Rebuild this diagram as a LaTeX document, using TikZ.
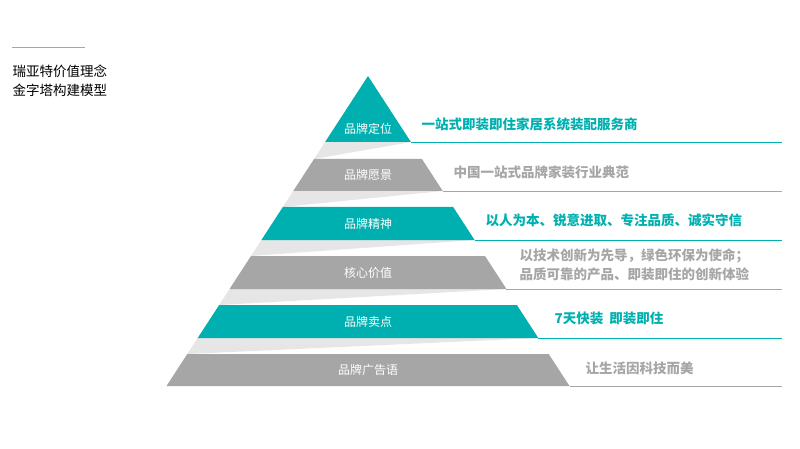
\documentclass[tikz,border=0pt]{standalone}
\usepackage{fontspec}
\setmainfont{Noto Sans CJK SC}
\definecolor{teal1}{HTML}{00B0B0}
\definecolor{gray1}{HTML}{A6A6A6}
\definecolor{band}{HTML}{E6E6E6}
\newcommand\pyrlayer[5]{%
  \fill[#3] ({368-0.65*(#1-76)},#1) -- ({368+0.65*(#1-76)},#1) -- ({368+0.65*(#2-76)},#2) -- ({368-0.65*(#2-76)},#2) -- cycle;
  \node[lab] (#5) at (368,{(#1+#2)/2}) {#4};
  \draw[#3, line width=0.7pt] ({368+0.65*(#2-76)},#2) -- (782,#2);
}
\newcommand\pyrband[2]{%
  \fill[band] ({368-0.65*(#1-76)},#1) -- ({368+0.65*(#1-76)},#1) -- ({368-0.65*(#2-76)},#2) -- cycle;
}
\begin{document}
\begin{tikzpicture}[x=1pt,y=-1pt,
  lab/.style={text=white,font=\fontsize{12}{14}\selectfont},
  tl/.style={anchor=west,font=\bfseries\fontsize{13.5}{16}\selectfont},
  ttl/.style={anchor=west,font=\fontsize{13.5}{19}\selectfont,align=left}]
\fill[white] (0,0) rectangle (800,449);
\draw[gray!70, line width=0.6pt] (12,47) -- (85,47);
\node[ttl] (title) at (9,81) {瑞亚特价值理念\\金字塔构建模型};
\pyrband{142}{159}
\pyrband{191}{207}
\pyrband{240}{256}
\pyrband{289}{305}
\pyrband{338}{354}
\fill[teal1] (368,76) -- ({368+0.65*66},142) -- ({368-0.65*66},142) -- cycle;
\node[lab] (l1) at (368,129) {品牌定位};
\draw[teal1, line width=0.7pt] ({368+0.65*66},142) -- (782,142);
\pyrlayer{159}{191}{gray1}{品牌愿景}{l2}
\pyrlayer{207}{240}{teal1}{品牌精神}{l3}
\pyrlayer{256}{289}{gray1}{核心价值}{l4}
\pyrlayer{305}{338}{teal1}{品牌卖点}{l5}
\pyrlayer{354}{386}{gray1}{品牌广告语}{l6}
\node[tl,text=teal1] (t1) at (418,124) {一站式即装即住家居系统装配服务商};
\node[tl,text=gray1] (t2) at (450,172) {中国一站式品牌家装行业典范};
\node[tl,text=teal1] (t3) at (482,220) {以人为本、锐意进取、专注品质、诚实守信};
\node[tl,text=gray1,align=left,font=\bfseries\fontsize{13.5}{19}\selectfont] (t4) at (516,265) {以技术创新为先导，绿色环保为使命；\\品质可靠的产品、即装即住的创新体验};
\node[tl,text=teal1] (t5) at (551,318) {7天快装\ \ 即装即住};
\node[tl,text=gray1] (t6) at (582,368) {让生活因科技而美};
\end{tikzpicture}
\end{document}
